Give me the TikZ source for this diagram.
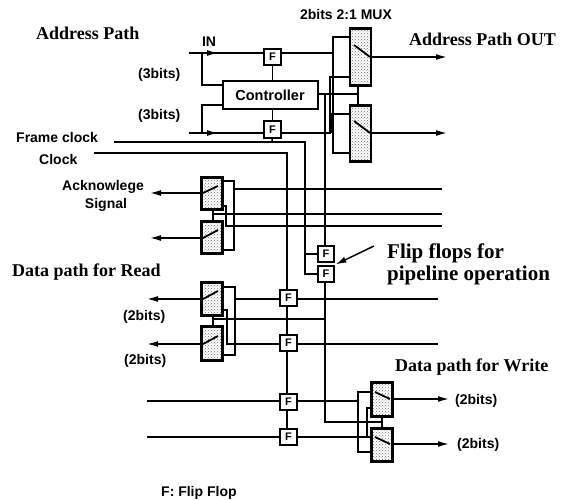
\documentclass[tikz,border=0pt]{standalone}
\usepackage{fontspec}
\setmainfont{Liberation Serif}
\setsansfont{Liberation Sans}
\usetikzlibrary{patterns,arrows.meta,backgrounds}
\tikzset{
  x=1pt,y=-1pt,
  wire/.style={line width=1.5pt,line join=miter},
  thick wire/.style={line width=2pt},
  ff/.style={draw,line width=2.4pt,fill=white,minimum size=16.5pt,inner sep=0pt,font=\sffamily\bfseries\fontsize{11}{11}\selectfont},
  mux/.style={draw,line width=2.2pt,pattern=crosshatch dots,pattern color=black!55,inner sep=0pt},
  lab/.style={font=\sffamily\bfseries\fontsize{14}{15}\selectfont,inner sep=0pt},
  big/.style={font=\rmfamily\bfseries\fontsize{18}{20}\selectfont,inner sep=0pt},
  huge/.style={font=\rmfamily\bfseries\fontsize{21}{23}\selectfont,inner sep=0pt},
  tip/.style={-{Latex[length=11pt,width=6pt]}},
}
\begin{document}
\begin{tikzpicture}
\useasboundingbox (0,0) rectangle (571,500);
\node[draw,fill=white,line width=2pt,minimum width=95pt,minimum height=28pt,inner sep=0pt,font=\sffamily\bfseries\fontsize{14.5}{16}\selectfont] (ctrl) at (270,95) {Controller};
\coordinate (inA) at (189,53); \coordinate (inB) at (189,133);
\node[ff] (f1) at (272.5,57) {F};
\node[ff] (f2) at (272.5,129.5) {F};
\node[ff] (f3) at (326,254) {F};
\node[ff] (f4) at (326,274) {F};
\node[ff] (f5) at (288.5,298) {F};
\node[ff] (f6) at (288.5,343) {F};
\node[ff] (f7) at (288.5,402) {F};
\node[ff] (f8) at (288.5,437) {F};
\begin{pgfonlayer}{background}
\begin{scope}[wire]
\draw (inA) -- (f1.west|-inA);
\draw (inB) -- (f2.west|-inB);
\draw (f1.east|-inA) -- (333,53);
\draw (202,53) |- (ctrl.west|-0,85);
\draw (202,133) |- (ctrl.west|-0,105);
\draw (f1) -- (ctrl.north-|f1);
\draw (ctrl.south-|f2) -- (f2);
\draw (f2.east|-inB) -- (330,133) |- (349,77);
\draw (332,133) |- (349,114);
\draw (349,37) -| (333,153) -- (349,153);
\draw (ctrl.east|-0,94) -- (358,94);
\draw (358,86) -- (358,105);
\draw (f2) -- (272,142);
\draw (114,142) -- (305,142) -- (305,274) -- (f4.west);
\draw (305,254) -- (f3.west);
\draw (94,153) -- (287,153) -- (287,437);
\draw (325,94) -- (325,245);
\draw (325,283) -- (325,422) -- (382,422);
\draw (382,417) -- (382,428);
\draw (325,319) -- (213,319);
\draw (213,316) -- (213,326);
\draw (223,181) -| (234,250) -- (223,250);
\draw (234,189) -- (442,189);
\draw (223,206) -| (226,226) -- (442,226);
\draw (213,210) -- (213,221);
\draw (213,214) -- (442,214);
\draw (223,287) -| (235,355) -- (223,355);
\draw (223,310) -| (227,344) -- (f6.west|-0,344);
\draw (f6.east|-0,344) -- (438,344);
\draw (147,401) -- (f7.west|-0,401);
\draw (147,437) -- (f8.west);
\draw (f7.east|-0,401) -- (358,401);
\draw (371,392) -| (358,452) -- (371,452);
\draw (f8.east) -- (371,437);
\draw (367,437) |- (371,408);
\draw[thick wire] (235,299) -- (f5.west|-0,299);
\draw[thick wire] (f5.east|-0,299) -- (438,299);
\end{scope}
\end{pgfonlayer}
\draw[tip,wire] (inA) -- (218,53);
\draw[tip,wire] (inB) -- (218,133);
\node[mux,minimum width=21pt,minimum height=57pt] (m1) at (360.5,57) {};
\node[mux,minimum width=21pt,minimum height=56pt] (m2) at (360.5,133.5) {};
\node[mux,minimum width=21pt,minimum height=32pt] (m3) at (212,193.5) {};
\node[mux,minimum width=21pt,minimum height=32pt] (m4) at (212,237.5) {};
\node[mux,minimum width=21pt,minimum height=33pt] (m5) at (212,299) {};
\node[mux,minimum width=21pt,minimum height=34pt] (m6) at (212,343.5) {};
\node[mux,minimum width=21pt,minimum height=34pt] (m7) at (382,399.5) {};
\node[mux,minimum width=21pt,minimum height=33pt] (m8) at (382,445) {};
\begin{scope}[line width=1.8pt]
\draw (354,45) -- (370,57); \draw (354,121) -- (370,133);
\draw (218,186) -- (203,193); \draw (218,230) -- (203,238);
\draw (218,291) -- (203,299); \draw (218,336) -- (203,344);
\draw (375,392) -- (390,399); \draw (375,437) -- (390,444);
\end{scope}
\draw[wire,tip] (m1.east|-0,57) -- (447,57);
\draw[wire,tip] (m2.east|-0,133) -- (447,133);
\draw[wire,tip] (m3.west|-0,193) -- (150,193);
\draw[wire,tip] (m4.west|-0,238) -- (150,238);
\draw[wire,tip] (m5.west) -- (147,299);
\draw[wire,tip] (m6.west|-0,344) -- (147,344);
\draw[wire,tip] (m7.east|-0,399) -- (449,399);
\draw[wire,tip] (m8.east|-0,444) -- (449,444);
\coordinate (ptr) at (374,246);
\draw[wire,tip] (ptr) -- (f4.north east);
\node[big,anchor=west] (t1) at (36,33) {Address Path};
\node[big,anchor=west] (t2) at (409,39) {Address Path OUT};
\node[lab,anchor=center] (t3) at (346,14) {2bits 2:1 MUX};
\node[lab,anchor=center] (t4) at (209,42) {IN};
\node[lab,anchor=west] (t5) at (138,75) {(3bits)};
\node[lab,anchor=west] (t6) at (138,116) {(3bits)};
\node[lab,anchor=west] (t7) at (16,137) {Frame clock};
\node[lab,anchor=west] (t8) at (39,159) {Clock};
\node[lab,anchor=center] (t9) at (103,187) {Acknowlege};
\node[lab,anchor=center] (t10) at (106,205) {Signal};
\node[big,anchor=west] (t11) at (12,272) {Data path for Read};
\node[lab,anchor=west] (t12) at (123,317) {(2bits)};
\node[lab,anchor=west] (t13) at (124,361) {(2bits)};
\node[huge,anchor=west] (t14) at (387,253) {Flip flops for};
\node[huge,anchor=west] (t15) at (387,275) {pipeline operation};
\node[big,anchor=west] (t16) at (395,367) {Data path for Write};
\node[lab,anchor=west] (t17) at (455,401) {(2bits)};
\node[lab,anchor=west] (t18) at (457,445) {(2bits)};
\node[lab,anchor=west] (t19) at (161,493) {F: Flip Flop};
\end{tikzpicture}
\end{document}
